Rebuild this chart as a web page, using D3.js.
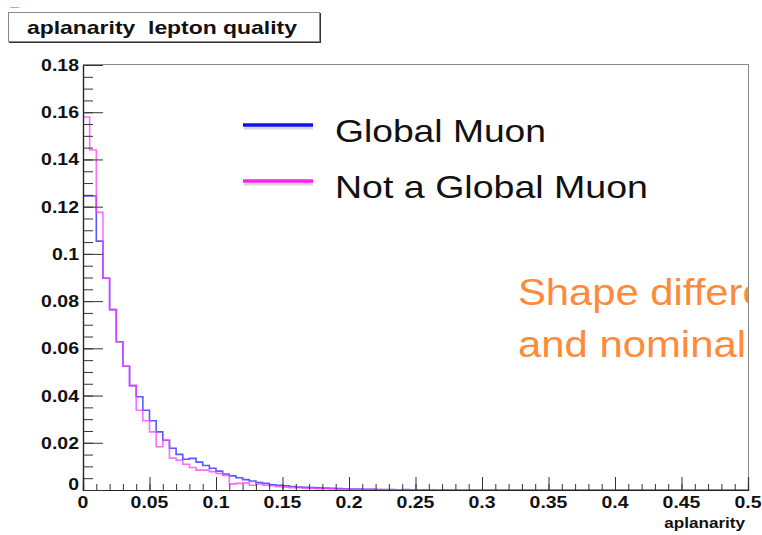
<!DOCTYPE html>
<html>
<head>
<meta charset="utf-8">
<script src="https://cdn.jsdelivr.net/npm/d3@7"></script>
<style>
  html, body { margin: 0; padding: 0; background: #fff; }
  svg { display: block; }
</style>
</head>
<body>
<svg id="chart"></svg>
<script>
const W = 762;
const H = 535;

// histogram: 100 bins from 0 to 0.5
const xRange = [0, 0.5];
const binCount = 100;

const globalMuon = [
  0.1245, 0.1245, 0.1054, 0.0897, 0.0764, 0.0628, 0.0524, 0.0442, 0.0395, 0.0338,
  0.0293, 0.0246, 0.0211, 0.0177, 0.0151, 0.0130, 0.0134, 0.0118, 0.0104, 0.0092,
  0.0080, 0.0068, 0.0060, 0.0052, 0.0044, 0.0038, 0.0032, 0.0028, 0.0022, 0.0020,
  0.0018, 0.0015, 0.0012, 0.0011, 0.0010, 0.0009, 0.0008, 0.0007, 0.0006, 0.0005,
  0.0004, 0.0004, 0.0003, 0.0003, 0.0002, 0.0002, 0.0002, 0.0001, 0.0002, 0.0001,
  0.0001, 0.0001, 0.0001, 0, 0.0001, 0, 0, 0, 0, 0,
  0, 0, 0, 0, 0, 0, 0, 0, 0, 0,
  0, 0, 0, 0, 0, 0, 0, 0, 0, 0,
  0, 0, 0, 0, 0, 0, 0, 0, 0, 0,
  0, 0, 0, 0, 0, 0, 0, 0, 0, 0
];

const notGlobalMuon = [
  0.1580, 0.1440, 0.1176, 0.0897, 0.0764, 0.0628, 0.0524, 0.0442, 0.0338, 0.0293,
  0.0246, 0.0183, 0.0211, 0.0135, 0.0126, 0.0109, 0.0095, 0.0084, 0.0084, 0.0078,
  0.0070, 0.0062, 0.0026, 0.0028, 0.0030, 0.0020, 0.0026, 0.0020, 0.0018, 0.0014,
  0.0012, 0.0010, 0.0010, 0.0008, 0.0008, 0.0006, 0.0007, 0.0005, 0.0004, 0.0004,
  0.0003, 0.0002, 0.0002, 0.0003, 0.0002, 0.0001, 0.0001, 0.0001, 0, 0.0001,
  0, 0, 0, 0, 0, 0, 0, 0, 0, 0,
  0, 0, 0, 0, 0, 0, 0, 0, 0, 0,
  0, 0, 0, 0, 0, 0, 0, 0, 0, 0,
  0, 0, 0, 0, 0, 0, 0, 0, 0, 0,
  0, 0, 0, 0, 0, 0, 0, 0, 0, 0
];

const xTickLabels = [0, 0.05, 0.1, 0.15, 0.2, 0.25, 0.3, 0.35, 0.4, 0.45, 0.5];
const yTickLabels = [0, 0.02, 0.04, 0.06, 0.08, 0.1, 0.12, 0.14, 0.16, 0.18];
const seriesNames = ['Global Muon', 'Not a Global Muon'];
const seriesColors = ['#3c3cff', '#ff3cff'];

const FONT = "'Liberation Sans', Arial, Helvetica, sans-serif";
const STRETCH = 1.18; // picture is horizontally stretched

const frame = { left: 83, right: 748, top: 64, bottom: 490 };

const svg = d3.select('#chart').attr('width', W).attr('height', H);
svg.append('rect').attr('width', W).attr('height', H).attr('fill', '#fff');

const x = d3.scaleLinear().domain(xRange).range([frame.left, frame.right]);
const y = d3.scaleLinear().domain([0, 0.18]).range([frame.bottom, 65]);

function stretchedText(g, px, py, txt, size, anchor, weight, color) {
  return g.append('text')
    .attr('transform', `translate(${px},${py}) scale(${STRETCH},1)`)
    .attr('text-anchor', anchor)
    .attr('font-family', FONT)
    .attr('font-size', size)
    .attr('font-weight', weight)
    .attr('fill', color)
    .text(txt);
}

// frame
svg.append('rect')
  .attr('x', frame.left + 0.5).attr('y', frame.top + 0.5)
  .attr('width', frame.right - frame.left).attr('height', frame.bottom - frame.top)
  .attr('fill', 'none').attr('stroke', '#8a8a8a').attr('stroke-width', 1);

// orange note, clipped at the frame edge like the original slide
svg.append('clipPath').attr('id', 'noteClip')
  .append('rect').attr('x', 0).attr('y', 0).attr('width', frame.right).attr('height', H);
const note = svg.append('g').attr('clip-path', 'url(#noteClip)');
note.append('text').attr('x', 518).attr('y', 305)
  .attr('font-family', FONT).attr('font-size', 37).attr('fill', '#ff8a3a')
  .attr('textLength', 315).attr('lengthAdjust', 'spacingAndGlyphs')
  .text('Shape difference');
note.append('text').attr('x', 518).attr('y', 357)
  .attr('font-family', FONT).attr('font-size', 37).attr('fill', '#ff8a3a')
  .attr('textLength', 228).attr('lengthAdjust', 'spacingAndGlyphs')
  .text('and nominal');

// histograms
const binWidth = (xRange[1] - xRange[0]) / binCount;
function stepPoints(values) {
  const pts = values.map((v, i) => [xRange[0] + i * binWidth, v]);
  pts.push([xRange[1], values[values.length - 1]]);
  return pts;
}
const line = d3.line()
  .x(d => x(d[0]))
  .y(d => y(d[1]))
  .curve(d3.curveStepAfter);

[globalMuon, notGlobalMuon].forEach((vals, k) => {
  svg.append('path')
    .attr('d', line(stepPoints(vals)))
    .attr('fill', 'none')
    .attr('stroke', seriesColors[k])
    .attr('stroke-width', 1.6)
    .attr('stroke-opacity', k === 0 ? 0.85 : 0.75);
});

// axes: ticks drawn inward, labels added separately
const xMajor = svg.append('g')
  .attr('transform', `translate(0,${frame.bottom})`)
  .call(d3.axisBottom(x).tickValues(xTickLabels).tickSize(-13).tickFormat(''));
const xMinor = svg.append('g')
  .attr('transform', `translate(0,${frame.bottom})`)
  .call(d3.axisBottom(x).tickValues(d3.range(0, 51).map(i => i / 100)).tickSize(-6).tickFormat(''));
const yMajor = svg.append('g')
  .attr('transform', `translate(${frame.left},0)`)
  .call(d3.axisLeft(y).tickValues(yTickLabels).tickSize(-20).tickFormat(''));
const yMinor = svg.append('g')
  .attr('transform', `translate(${frame.left},0)`)
  .call(d3.axisLeft(y).tickValues(d3.range(0, 37).map(i => i * 0.005)).tickSize(-10).tickFormat(''));

[xMajor, xMinor, yMajor, yMinor].forEach(g => {
  g.select('.domain').attr('stroke', '#222').attr('stroke-width', 1.2);
  g.selectAll('.tick line').attr('stroke', '#333').attr('stroke-width', 1);
});

const fmt = d => (d === 0 ? '0' : String(+d.toFixed(2)));
const labels = svg.append('g');
xTickLabels.forEach(d => {
  stretchedText(labels, x(d), 508, fmt(d), 16.5, 'middle', 'bold', '#111');
});
yTickLabels.forEach(d => {
  stretchedText(labels, 79, y(d) + (d === 0 ? 0 : 6), fmt(d), 16.5, 'end', 'bold', '#111');
});
stretchedText(labels, 745, 528, 'aplanarity', 14.5, 'end', 'bold', '#111');

// title box
svg.append('rect').attr('x', 9).attr('y', 13).attr('width', 312).attr('height', 30)
  .attr('fill', '#333');
svg.append('rect').attr('x', 8.5).attr('y', 12.5).attr('width', 311).attr('height', 29)
  .attr('fill', '#fff').attr('stroke', '#888').attr('stroke-width', 1);
svg.append('text').attr('x', 27).attr('y', 33.5)
  .style('white-space', 'pre')
  .attr('font-family', FONT).attr('font-size', 18.5).attr('font-weight', 'bold').attr('fill', '#111')
  .attr('textLength', 270).attr('lengthAdjust', 'spacingAndGlyphs')
  .text('aplanarity  lepton quality');
svg.append('line').attr('x1', 10).attr('x2', 19).attr('y1', 7.5).attr('y2', 7.5)
  .attr('stroke', '#ff9a6a').attr('stroke-width', 1);

// legend
const legendY = [125, 181];
const legendLen = [211, 313];
const legend = svg.append('g');
seriesNames.forEach((name, k) => {
  legend.append('line')
    .attr('x1', 244).attr('x2', 313).attr('y1', legendY[k] + 3).attr('y2', legendY[k] + 3)
    .attr('stroke', '#bbb').attr('stroke-width', 3).attr('stroke-opacity', 0.6);
  legend.append('line')
    .attr('x1', 243).attr('x2', 313).attr('y1', legendY[k]).attr('y2', legendY[k])
    .attr('stroke', k === 0 ? '#1010f0' : '#ff22ee').attr('stroke-width', 3.5);
  legend.append('text')
    .attr('x', 335).attr('y', legendY[k] + 17)
    .attr('font-family', FONT).attr('font-size', 32).attr('fill', '#111')
    .attr('textLength', legendLen[k]).attr('lengthAdjust', 'spacingAndGlyphs')
    .text(name);
});
</script>
</body>
</html>
